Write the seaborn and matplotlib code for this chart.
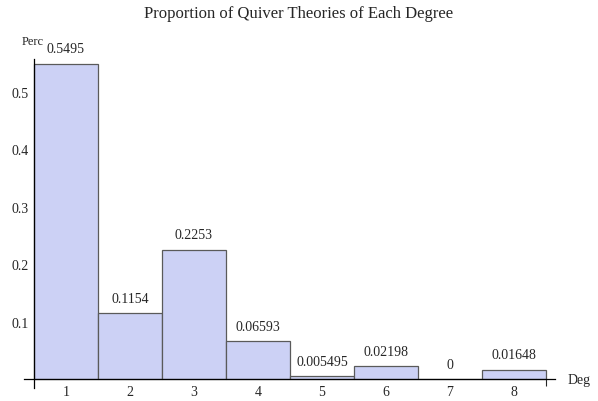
import matplotlib
matplotlib.use("Agg")
import matplotlib.pyplot as plt
import seaborn as sns
from matplotlib.ticker import MultipleLocator, FixedLocator

# Data
degrees = [1, 2, 3, 4, 5, 6, 7, 8]
proportions = [0.5495, 0.1154, 0.2253, 0.06593, 0.005495, 0.02198, 0.0, 0.01648]
bar_labels = ["0.5495", "0.1154", "0.2253", "0.06593", "0.005495", "0.02198", "0", "0.01648"]
y_ticks = [0.1, 0.2, 0.3, 0.4, 0.5]

BAR_COLOR = "#ccd1f5"
EDGE_COLOR = "#5a5a5a"
FS = 10

sns.set_style("white")
plt.rcParams["font.family"] = ["Liberation Serif", "DejaVu Serif"]

fig = plt.figure(figsize=(5.98, 4.02), dpi=100)
ax = fig.add_axes([0.0401, 0.0323, 0.888, 0.8177])

sns.barplot(x=degrees, y=proportions, native_scale=True, width=1.0,
            color=BAR_COLOR, edgecolor=EDGE_COLOR, linewidth=0.9,
            saturation=1, ax=ax)

ax.bar_label(ax.containers[0], labels=bar_labels, padding=6, fontsize=FS)

# axes in the Mathematica style
ax.set_xlim(0.345, 8.64)
ax.set_ylim(-0.0155, 0.557)
for side in ["top", "right"]:
    ax.spines[side].set_visible(False)
ax.spines["bottom"].set_position(("data", 0))
ax.spines["left"].set_position(("data", 0.5))
for side in ["bottom", "left"]:
    ax.spines[side].set_color("black")
    ax.spines[side].set_linewidth(0.9)

ax.yaxis.set_major_locator(FixedLocator(y_ticks))
ax.yaxis.set_minor_locator(MultipleLocator(0.02))
ax.set_yticklabels([f"{t:g}" for t in y_ticks])
ax.tick_params(axis="y", which="major", direction="in", length=5, width=0.8,
               labelsize=FS, left=True, pad=4)
ax.tick_params(axis="y", which="minor", direction="in", length=3, width=0.6, left=True)

ax.set_xticks(degrees)
ax.set_xticklabels([str(d) for d in degrees])
ax.tick_params(axis="x", which="major", length=0, labelsize=FS, pad=4)
ax.xaxis.set_minor_locator(FixedLocator([8.5]))
ax.tick_params(axis="x", which="minor", direction="out", length=5, width=0.8, bottom=True)

ax.set_xlabel("")
ax.set_ylabel("")
ax.text(1.024, 0.0, "Deg", transform=ax.get_yaxis_transform(),
        ha="left", va="center", fontsize=FS)
ax.text(-0.004, 1.056, "Perc", transform=ax.transAxes,
        ha="left", va="center", fontsize=9)

fig.suptitle("Proportion of Quiver Theories of Each Degree", y=0.985,
             fontsize=12)

fig.savefig("out.png", dpi=100)
